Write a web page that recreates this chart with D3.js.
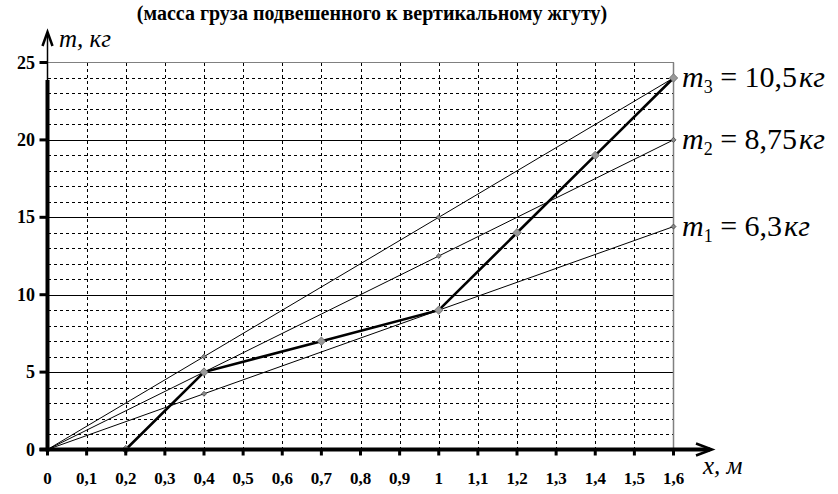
<!DOCTYPE html>
<html>
<head>
<meta charset="utf-8">
<script src="https://cdn.jsdelivr.net/npm/d3@7"></script>
</head>
<body style="margin:0">
<svg id="c" width="838" height="494"></svg>
<script>
// Tick labels (decimal comma as in the original)
const xTickValues = [0, 0.1, 0.2, 0.3, 0.4, 0.5, 0.6, 0.7, 0.8, 0.9, 1, 1.1, 1.2, 1.3, 1.4, 1.5, 1.6];
const xTickLabels = ["0", "0,1", "0,2", "0,3", "0,4", "0,5", "0,6", "0,7", "0,8", "0,9", "1", "1,1", "1,2", "1,3", "1,4", "1,5", "1,6"];
const yTickValues = [0, 5, 10, 15, 20, 25];

// Measured points of the rubber cord (thick line)
const expX = [0.2, 0.4, 0.7, 1, 1.2, 1.4, 1.6];
const expM = [0, 5, 7, 9, 14, 19, 24];

// Straight lines through the origin for the three masses
const fitX = [0, 0.4, 1, 1.6];
const m1Values = [0, 3.6, 9, 14.4];
const m2Values = [0, 5, 12.5, 20];
const m3Values = [0, 6, 15, 24];
const fitNames = ["1", "2", "3"];
const fitMasses = ["6,3", "8,75", "10,5"];

const FONT = '"Liberation Serif"';
const svg = d3.select("#c");

// small helper so every text gets the same serif face
function label(sel, px) {
    return sel.append("text").attr("font-size", px).style("font-family", FONT);
}

// Plot area in page pixels
const x = d3.scaleLinear().domain([0, 1.6]).range([47.5, 673.5]);
const y = d3.scaleLinear().domain([0, 25]).range([449.5, 62.5]);

// Title
label(svg, 20)
    .attr("x", 372).attr("y", 20)
    .attr("text-anchor", "middle")
    .attr("font-weight", "bold")
    .text("(масса груза подвешенного к вертикальному жгуту)");

// Horizontal grid: dashed every 1, solid every 5
const g = svg.append("g").attr("shape-rendering", "crispEdges");
d3.range(1, 25).forEach(v => {
    const yy = Math.round(y(v)) + 0.5;
    g.append("line")
        .attr("x1", x(0)).attr("x2", x(1.6))
        .attr("y1", yy).attr("y2", yy)
        .attr("stroke", "#000").attr("stroke-width", 1)
        .attr("stroke-dasharray", v % 5 === 0 ? null : "3,3");
});
// Top border (grey)
g.append("line")
    .attr("x1", x(0)).attr("x2", x(1.6))
    .attr("y1", y(25)).attr("y2", y(25))
    .attr("stroke", "#808080").attr("stroke-width", 1);

// Vertical grid, dashed every 0.1
xTickValues.slice(1, -1).forEach(v => {
    const xx = Math.round(x(v)) + 0.5;
    g.append("line")
        .attr("x1", xx).attr("x2", xx)
        .attr("y1", y(25)).attr("y2", y(0))
        .attr("stroke", "#000").attr("stroke-width", 1)
        .attr("stroke-dasharray", "3,3");
});
// Right border (grey)
svg.append("line")
    .attr("x1", x(1.6)).attr("x2", x(1.6))
    .attr("y1", y(25)).attr("y2", y(0))
    .attr("stroke", "#808080").attr("stroke-width", 1.5);

// Fitted lines
const fitSeries = [m1Values, m2Values, m3Values];
const thin = d3.line().x((d, i) => x(fitX[i])).y(d => y(d));
fitSeries.forEach(vals => {
    svg.append("path").datum(vals)
        .attr("fill", "none").attr("stroke", "#000").attr("stroke-width", 1)
        .attr("d", thin);
    svg.selectAll(null)
        .data(vals)
        .join("rect")
        .attr("x", (d, i) => x(fitX[i]) - 1.8)
        .attr("y", d => y(d) - 1.8)
        .attr("width", 3.6).attr("height", 3.6)
        .attr("transform", (d, i) => `rotate(45,${x(fitX[i])},${y(d)})`)
        .attr("fill", "#888").attr("stroke", "#333").attr("stroke-width", 0.6);
});

// Experimental line
const thick = d3.line().x((d, i) => x(expX[i])).y(d => y(d));
svg.append("path").datum(expM)
    .attr("fill", "none").attr("stroke", "#000").attr("stroke-width", 2.6)
    .attr("d", thick);
svg.selectAll(null)
    .data(expM)
    .join("rect")
    .attr("x", (d, i) => x(expX[i]) - 3)
    .attr("y", d => y(d) - 3)
    .attr("width", 6).attr("height", 6)
    .attr("transform", (d, i) => `rotate(45,${x(expX[i])},${y(d)})`)
    .attr("fill", "#999").attr("stroke", "#555").attr("stroke-width", 0.6);

// y axis: thick part, thin continuation and open arrowhead
svg.append("line")
    .attr("x1", x(0)).attr("x2", x(0))
    .attr("y1", y(0) + 2).attr("y2", 80)
    .attr("stroke", "#000").attr("stroke-width", 4);
svg.append("line")
    .attr("x1", x(0)).attr("x2", x(0))
    .attr("y1", 80).attr("y2", 33)
    .attr("stroke", "#000").attr("stroke-width", 1.5);
svg.append("path")
    .attr("d", `M${x(0) - 5},46 L${x(0)},32 L${x(0) + 5},46`)
    .attr("fill", "none").attr("stroke", "#000").attr("stroke-width", 2.5);

// x axis with arrow
svg.append("line")
    .attr("x1", x(0) - 8).attr("x2", 710)
    .attr("y1", y(0)).attr("y2", y(0))
    .attr("stroke", "#000").attr("stroke-width", 4);
svg.append("path")
    .attr("d", `M696,${y(0) - 6} L712,${y(0)} L696,${y(0) + 6}`)
    .attr("fill", "none").attr("stroke", "#000").attr("stroke-width", 2.5);

// x ticks and labels
xTickValues.forEach((v, i) => {
    svg.append("line")
        .attr("x1", x(v)).attr("x2", x(v))
        .attr("y1", y(0)).attr("y2", y(0) + 6)
        .attr("stroke", "#000").attr("stroke-width", 3);
    label(svg, 17)
        .attr("x", x(v)).attr("y", 484)
        .attr("text-anchor", "middle")
        .attr("font-weight", "bold")
        .text(xTickLabels[i]);
});

// y ticks and labels
yTickValues.forEach(v => {
    svg.append("line")
        .attr("x1", x(0) - 8).attr("x2", x(0))
        .attr("y1", y(v)).attr("y2", y(v))
        .attr("stroke", "#000").attr("stroke-width", 3);
    label(svg, 18)
        .attr("x", 35).attr("y", y(v) + 6)
        .attr("text-anchor", "end")
        .attr("font-weight", "bold")
        .text(v);
});

// Axis titles
label(svg, 25)
    .attr("x", 59).attr("y", 47)
    .attr("font-style", "italic")
    .text("m, кг");

label(svg, 25)
    .attr("x", 703).attr("y", 474)
    .attr("font-style", "italic")
    .text("x, м");

// Labels at the ends of the fitted lines
fitSeries.forEach((vals, k) => {
    const t = label(svg, 30)
        .attr("x", 682)
        .attr("y", y(vals[vals.length - 1]) + 9);
    t.append("tspan").attr("font-style", "italic").text("m");
    t.append("tspan").attr("font-size", 18).attr("dy", 6).text(fitNames[k]);
    t.append("tspan").attr("dy", -6).text(" = " + fitMasses[k]);
    t.append("tspan").attr("font-style", "italic").attr("dx", 2).text("кг");
});
</script>
</body>
</html>
